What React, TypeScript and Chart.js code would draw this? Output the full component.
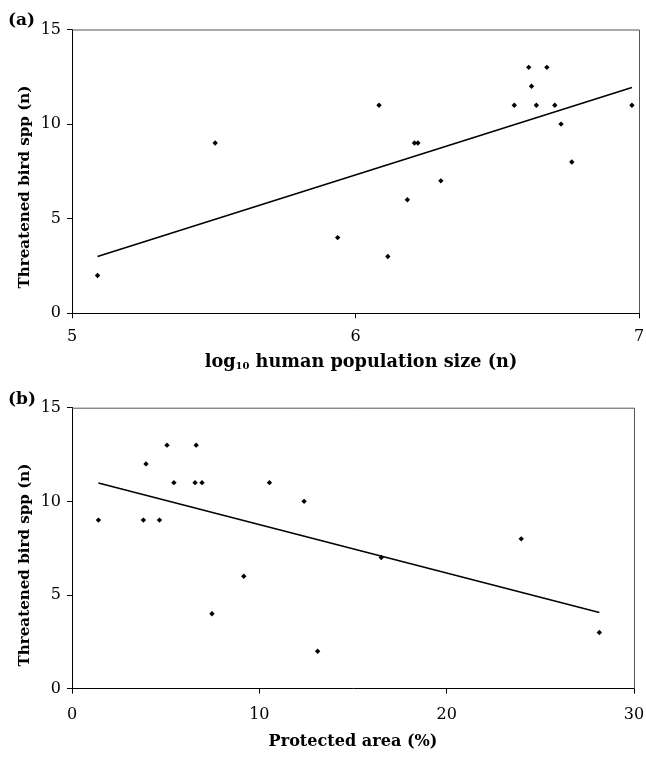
import React, { useEffect, useRef } from 'react';
import { Chart, registerables } from 'chart.js';
Chart.register(...registerables);

// Panel (a): log10 human population size vs threatened bird species
const popLogX = [5.09, 5.505, 5.937, 6.083, 6.114, 6.183, 6.208, 6.22, 6.301, 6.56, 6.611, 6.621, 6.638, 6.675, 6.703, 6.725, 6.763, 6.975];
const popBirds = [2, 9, 4, 11, 3, 6, 9, 9, 7, 11, 13, 12, 11, 13, 11, 10, 8, 11];
const popTrendX = [5.09, 6.975];
const popTrendY = [3.0, 11.93];

// Panel (b): protected area (%) vs threatened bird species
const protX = [1.41, 3.81, 3.95, 4.67, 5.07, 5.44, 6.57, 6.63, 6.94, 7.47, 9.17, 10.54, 12.39, 13.11, 16.51, 23.98, 28.15];
const protBirds = [9, 9, 12, 9, 13, 11, 11, 13, 11, 4, 6, 11, 10, 2, 7, 8, 3];
const protTrendX = [1.41, 28.15];
const protTrendY = [10.98, 4.07];

const yTickValues = [0, 5, 10, 15];
const popTickValues = [5, 6, 7];
const protTickValues = [0, 10, 20, 30];

const FONT = '"DejaVu Serif", "Liberation Serif", serif';

type PanelCfg = {
  height: number;
  xs: number[];
  ys: number[];
  tx: number[];
  ty: number[];
  xTicks: number[];
  padTop: number;
  padRight: number;
  xAxisH: number;
  xTickPad: number;
  label: string;
  labelY: number;
  yTitleY: number;
  xTitleY: number;
  xTitleX: number;
  xTitleW: number;
  sub: boolean;
  xTitle: string;
};

function fitSize(ctx: CanvasRenderingContext2D, text: string, target: number) {
  ctx.font = 'bold 20px ' + FONT;
  const w = ctx.measureText(text).width;
  return (20 * target) / w;
}

function Panel({ cfg }: { cfg: PanelCfg }) {
  const ref = useRef<HTMLCanvasElement | null>(null);
  useEffect(() => {
    if (!ref.current) return;
    const textPlugin = {
      id: 'texts',
      afterDraw(chart: any) {
        const ctx = chart.ctx as CanvasRenderingContext2D;
        const a = chart.chartArea;
        ctx.save();
        // top & right frame
        ctx.strokeStyle = '#555';
        ctx.lineWidth = 1;
        ctx.beginPath();
        ctx.moveTo(a.left, a.top + 0.5);
        ctx.lineTo(a.right + 0.5, a.top + 0.5);
        ctx.lineTo(a.right + 0.5, a.bottom);
        ctx.stroke();
        ctx.fillStyle = '#000';
        // panel label
        ctx.font = 'bold 17px ' + FONT;
        ctx.textAlign = 'left';
        ctx.textBaseline = 'middle';
        ctx.fillText(cfg.label, 8, cfg.labelY);
        // y title
        const yTitle = 'Threatened bird spp (n)';
        const ys = fitSize(ctx, yTitle, 203);
        ctx.save();
        ctx.translate(25, cfg.yTitleY);
        ctx.rotate(-Math.PI / 2);
        ctx.textAlign = 'center';
        ctx.font = 'bold ' + ys + 'px ' + FONT;
        ctx.fillText(yTitle, 0, 0);
        ctx.restore();
        // x title
        if (cfg.sub) {
          const p1 = 'log';
          const p2 = '10';
          const p3 = ' human population size (n)';
          const s = fitSize(ctx, p1 + p3, cfg.xTitleW - 12);
          ctx.font = 'bold ' + s + 'px ' + FONT;
          const w1 = ctx.measureText(p1).width;
          const w3 = ctx.measureText(p3).width;
          ctx.font = 'bold 10px ' + FONT;
          const w2 = ctx.measureText(p2).width;
          const total = w1 + w2 + w3;
          let x = cfg.xTitleX - total / 2;
          ctx.textAlign = 'left';
          ctx.font = 'bold ' + s + 'px ' + FONT;
          ctx.fillText(p1, x, cfg.xTitleY);
          x += w1;
          ctx.font = 'bold 10px ' + FONT;
          ctx.fillText(p2, x, cfg.xTitleY + 4);
          x += w2;
          ctx.font = 'bold ' + s + 'px ' + FONT;
          ctx.fillText(p3, x, cfg.xTitleY);
        } else {
          const s = fitSize(ctx, cfg.xTitle, cfg.xTitleW);
          ctx.font = 'bold ' + s + 'px ' + FONT;
          ctx.textAlign = 'center';
          ctx.fillText(cfg.xTitle, cfg.xTitleX, cfg.xTitleY);
        }
        ctx.restore();
      },
    };
    const chart = new Chart(ref.current, {
      type: 'scatter',
      data: {
        datasets: [
          {
            data: cfg.xs.map((x, i) => ({ x, y: cfg.ys[i] })),
            pointStyle: 'rectRot',
            pointRadius: 2.7,
            backgroundColor: '#000',
            borderColor: '#000',
            borderWidth: 0,
          },
          {
            data: cfg.tx.map((x, i) => ({ x, y: cfg.ty[i] })),
            showLine: true,
            pointRadius: 0,
            borderColor: '#000',
            borderWidth: 1.6,
          } as any,
        ],
      },
      options: {
        animation: false,
        responsive: false,
        events: [],
        layout: { padding: { left: 0, top: cfg.padTop, right: cfg.padRight, bottom: 0 } },
        plugins: { legend: { display: false }, tooltip: { enabled: false } },
        scales: {
          x: {
            type: 'linear',
            min: cfg.xTicks[0],
            max: cfg.xTicks[cfg.xTicks.length - 1],
            afterBuildTicks: (s: any) => { s.ticks = cfg.xTicks.map((v) => ({ value: v })); },
            afterFit: (s: any) => {
              s.height = cfg.xAxisH;
              s.paddingLeft = 0;
              s.paddingRight = 0;
            },
            grid: { drawOnChartArea: false, drawTicks: true, tickLength: 5, color: '#000' },
            border: { display: true, color: '#000', width: 1 },
            ticks: { color: '#000', font: { family: FONT, size: 16 }, padding: cfg.xTickPad, maxRotation: 0 },
          },
          y: {
            type: 'linear',
            min: 0,
            max: 15,
            afterBuildTicks: (s: any) => { s.ticks = yTickValues.map((v) => ({ value: v })); },
            afterFit: (s: any) => {
              s.width = 72;
              s.paddingTop = 0;
              s.paddingBottom = 0;
            },
            grid: { drawOnChartArea: false, drawTicks: true, tickLength: 5, color: '#000' },
            border: { display: true, color: '#000', width: 1 },
            ticks: { color: '#000', font: { family: FONT, size: 16 }, padding: 6 },
          },
        },
      },
      plugins: [textPlugin],
    } as any);
    return () => chart.destroy();
  }, [cfg]);
  return <canvas ref={ref} width={646} height={cfg.height} style={{ display: 'block', width: 646, height: cfg.height }} />;
}

const cfgA: PanelCfg = {
  height: 380,
  xs: popLogX,
  ys: popBirds,
  tx: popTrendX,
  ty: popTrendY,
  xTicks: popTickValues,
  padTop: 29.5,
  padRight: 7,
  xAxisH: 380 - 313.3,
  xTickPad: 9,
  label: '(a)',
  labelY: 21,
  yTitleY: 187,
  xTitleY: 362,
  xTitleX: 361,
  xTitleW: 311,
  sub: true,
  xTitle: 'log10 human population size (n)',
};

const cfgB: PanelCfg = {
  height: 381,
  xs: protX,
  ys: protBirds,
  tx: protTrendX,
  ty: protTrendY,
  xTicks: protTickValues,
  padTop: 27.7,
  padRight: 12,
  xAxisH: 381 - 308.7,
  xTickPad: 12,
  label: '(b)',
  labelY: 20,
  yTitleY: 185,
  xTitleY: 362,
  xTitleX: 353,
  xTitleW: 169,
  sub: false,
  xTitle: 'Protected area (%)',
};

export default function App() {
  return (
    <div style={{ position: 'absolute', left: 0, top: 0, width: 646, height: 761, background: '#fff' }}>
      <Panel cfg={cfgA} />
      <Panel cfg={cfgB} />
    </div>
  );
}
